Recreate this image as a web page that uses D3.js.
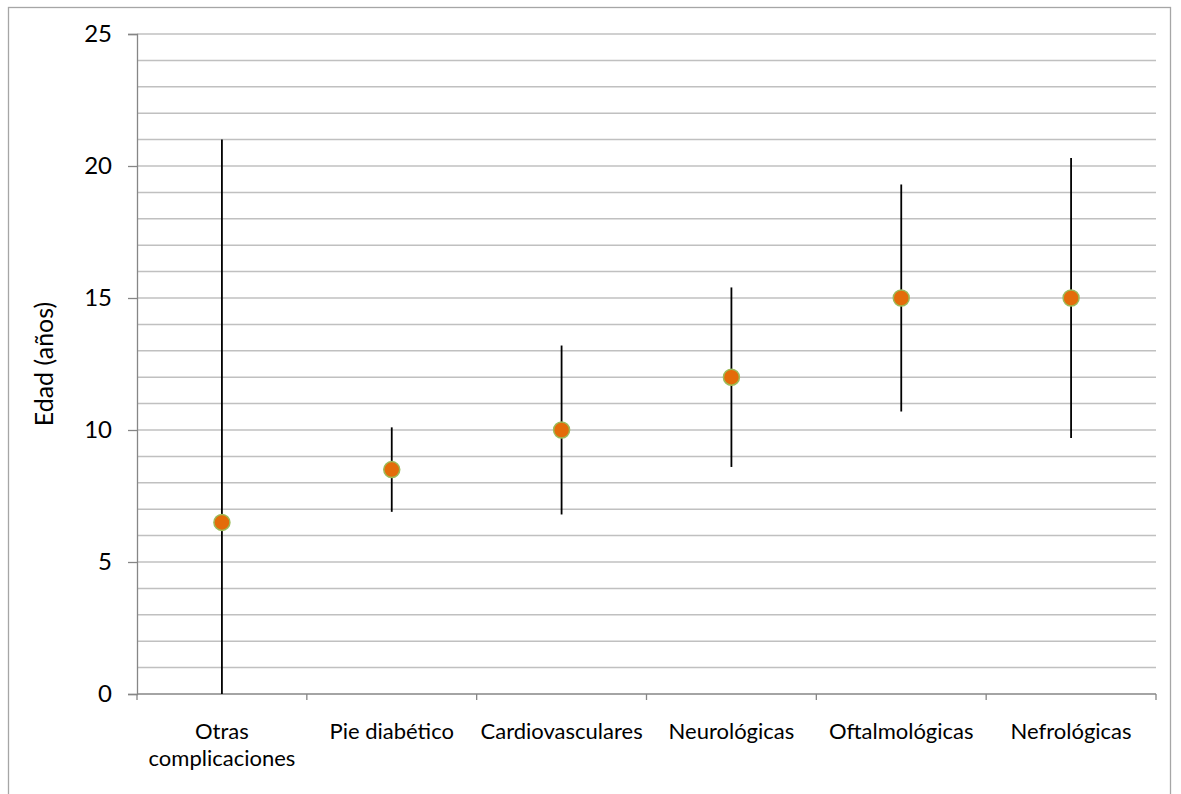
<!DOCTYPE html>
<html lang="es">
<head>
<meta charset="UTF-8">
<title>Edad por complicación</title>
<script src="https://cdn.jsdelivr.net/npm/d3@7"></script>
<style>
  body { margin: 0; background: #fff; }
  svg text { font-family: Lato, "Open Sans", sans-serif; fill: #000; }
</style>
</head>
<body>
<svg id="chart" width="1181" height="794"></svg>
<script>
// datos
var categorias = [["Otras", "complicaciones"], ["Pie diabético"], ["Cardiovasculares"],
                  ["Neurológicas"], ["Oftalmológicas"], ["Nefrológicas"]];
var edad  = [6.5, 8.5, 10, 12, 15, 15];
var bajo  = [0, 6.9, 6.8, 8.6, 10.7, 9.7];
var alto  = [21, 10.1, 13.2, 15.4, 19.3, 20.3];
var ticksY = [0, 5, 10, 15, 20, 25];

var svg = d3.select("#chart");
var m = { left: 137, top: 34, right: 1156, bottom: 694 };

// marco exterior del gráfico
svg.append("rect")
  .attr("x", 8.5).attr("y", 7.5)
  .attr("width", 1162).attr("height", 800)
  .attr("fill", "none").attr("stroke", "#a6a6a6").attr("stroke-width", 1.3);

var x = d3.scaleBand().domain(d3.range(categorias.length)).range([m.left, m.right]);
var y = d3.scaleLinear().domain([0, 25]).range([m.bottom, m.top]);

// lineas de division cada 1 año
svg.append("g").selectAll("line")
  .data(d3.range(1, 26))
  .join("line")
  .attr("x1", m.left).attr("x2", m.right)
  .attr("y1", d => y(d)).attr("y2", d => y(d))
  .attr("stroke", "#c0c0c0").attr("stroke-width", 1.5);

// eje Y
var ejeY = svg.append("g")
  .attr("transform", "translate(" + m.left + ",0)")
  .call(d3.axisLeft(y).tickValues(ticksY).tickSize(9).tickPadding(16).tickFormat(d3.format("d")));
ejeY.select(".domain").attr("stroke", "#868686").attr("stroke-width", 1.3);
ejeY.selectAll(".tick line").attr("stroke", "#868686").attr("stroke-width", 1.3);
ejeY.selectAll("text").attr("font-size", 24).attr("font-family", "Lato, sans-serif");

// eje X
var ejeX = svg.append("g").attr("transform", "translate(0," + m.bottom + ")");
ejeX.append("line")
  .attr("x1", m.left).attr("x2", m.right)
  .attr("stroke", "#868686").attr("stroke-width", 1.5);
ejeX.selectAll(".sep")
  .data(d3.range(categorias.length + 1))
  .join("line")
  .attr("class", "sep")
  .attr("x1", d => m.left + d * x.bandwidth()).attr("x2", d => m.left + d * x.bandwidth())
  .attr("y1", 0).attr("y2", 6)
  .attr("stroke", "#868686").attr("stroke-width", 1.3);

var etiquetas = ejeX.selectAll(".cat")
  .data(categorias)
  .join("text")
  .attr("class", "cat")
  .attr("text-anchor", "middle")
  .attr("font-size", 22)
  .attr("transform", (d, i) => "translate(" + (x(i) + x.bandwidth() / 2) + ",45)");
etiquetas.selectAll("tspan")
  .data(d => d)
  .join("tspan")
  .attr("x", 0)
  .attr("dy", (d, i) => i === 0 ? 0 : 27)
  .text(d => d);

// titulo del eje
svg.append("text")
  .attr("transform", "translate(53," + ((m.top + m.bottom) / 2) + ") rotate(-90)")
  .attr("text-anchor", "middle")
  .attr("font-size", 25)
  .text("Edad (años)");

// barras de error
svg.append("g").selectAll("line")
  .data(edad)
  .join("line")
  .attr("x1", (d, i) => x(i) + x.bandwidth() / 2)
  .attr("x2", (d, i) => x(i) + x.bandwidth() / 2)
  .attr("y1", (d, i) => y(bajo[i]))
  .attr("y2", (d, i) => y(alto[i]))
  .attr("stroke", "#000").attr("stroke-width", 1.8);

// puntos
svg.append("g").selectAll("circle")
  .data(edad)
  .join("circle")
  .attr("cx", (d, i) => x(i) + x.bandwidth() / 2)
  .attr("cy", d => y(d))
  .attr("r", 8)
  .attr("fill", "#e46c0a")
  .attr("stroke", "#9bbb59").attr("stroke-width", 1.5);
</script>
</body>
</html>
